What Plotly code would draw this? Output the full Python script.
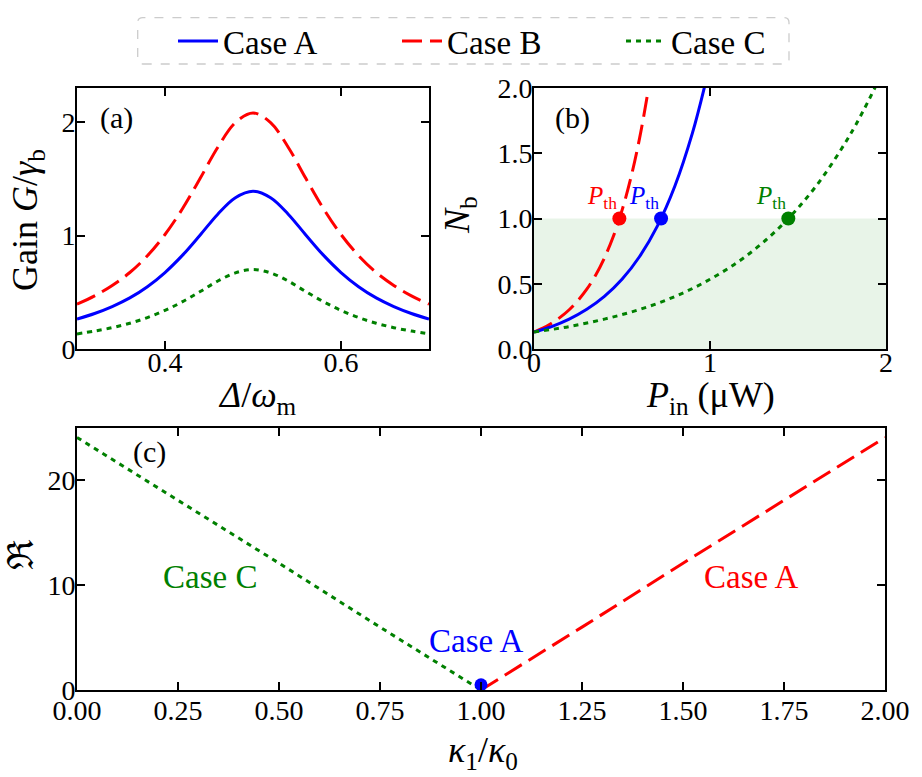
import plotly.graph_objects as go

FONT = "Liberation Serif, DejaVu Serif, serif"

# ---------------- data ----------------
# panel (a): gain vs detuning
detuning = [0.30, 0.32, 0.34, 0.36, 0.38, 0.40, 0.42, 0.44, 0.46, 0.48, 0.50,
            0.52, 0.54, 0.56, 0.58, 0.60, 0.62, 0.64, 0.66, 0.68, 0.70]
gain_A = [0.264, 0.313, 0.374, 0.450, 0.549, 0.674, 0.827, 1.005, 1.188, 1.333, 1.39,
          1.333, 1.188, 1.005, 0.827, 0.674, 0.549, 0.450, 0.374, 0.313, 0.264]
gain_B = [0.395, 0.468, 0.560, 0.674, 0.822, 1.009, 1.238, 1.504, 1.778, 1.995, 2.08,
          1.995, 1.778, 1.504, 1.238, 1.009, 0.822, 0.674, 0.560, 0.468, 0.395]
gain_C = [0.133, 0.158, 0.188, 0.227, 0.277, 0.340, 0.417, 0.506, 0.599, 0.671, 0.70,
          0.671, 0.599, 0.506, 0.417, 0.340, 0.277, 0.227, 0.188, 0.158, 0.133]

# panel (b): phonon number vs input power
P_A = [0.0, 0.1, 0.2, 0.3, 0.4, 0.5, 0.6, 0.7, 0.8, 0.9, 0.97]
N_A = [0.13, 0.172, 0.229, 0.304, 0.403, 0.534, 0.709, 0.940, 1.247, 1.654, 2.015]
P_B = [0.0, 0.05, 0.10, 0.15, 0.20, 0.25, 0.30, 0.35, 0.40, 0.45, 0.50, 0.55, 0.60, 0.65]
N_B = [0.13, 0.160, 0.198, 0.244, 0.301, 0.372, 0.458, 0.565, 0.698, 0.860, 1.062, 1.31, 1.616, 1.99]
P_C = [0.0, 0.2, 0.4, 0.6, 0.8, 1.0, 1.2, 1.4, 1.6, 1.8, 1.94]
N_C = [0.13, 0.172, 0.229, 0.303, 0.402, 0.534, 0.707, 0.938, 1.244, 1.651, 2.01]
P_th = [0.722, 0.485, 1.445]          # Case A, B, C
N_th = [1.0, 1.0, 1.0]
shade_N = [0.0, 1.0]

# panel (c): ratio vs kappa1/kappa0
kappa_C = [0.0, 0.25, 0.50, 0.75, 1.0]
R_C = [24.1, 18.1, 12.1, 6.0, 0.0]
kappa_A = [1.0, 1.25, 1.50, 1.75, 2.0]
R_A = [0.0, 6.0, 12.1, 18.1, 24.1]
kappa_point = [1.0]
R_point = [0.5]

BLUE, RED, GREEN = "#0000ff", "#ff0000", "#008000"
DASH_B = "20px,8px"
DOT_C = "5px,5px"
LW = 3

fig = go.Figure()

# (a)
fig.add_trace(go.Scatter(x=detuning, y=gain_A, mode="lines", name="Case A",
                         line=dict(color=BLUE, width=LW, shape="spline"),
                         xaxis="x", yaxis="y"))
fig.add_trace(go.Scatter(x=detuning, y=gain_B, mode="lines", name="Case B",
                         line=dict(color=RED, width=LW, dash=DASH_B, shape="spline"),
                         xaxis="x", yaxis="y"))
fig.add_trace(go.Scatter(x=detuning, y=gain_C, mode="lines", name="Case C",
                         line=dict(color=GREEN, width=LW, dash=DOT_C, shape="spline"),
                         xaxis="x", yaxis="y"))

# (b)
fig.add_trace(go.Scatter(x=P_B, y=N_B, mode="lines", showlegend=False,
                         line=dict(color=RED, width=LW, dash=DASH_B, shape="spline"),
                         xaxis="x2", yaxis="y2"))
fig.add_trace(go.Scatter(x=P_A, y=N_A, mode="lines", showlegend=False,
                         line=dict(color=BLUE, width=LW, shape="spline"),
                         xaxis="x2", yaxis="y2"))
fig.add_trace(go.Scatter(x=P_C, y=N_C, mode="lines", showlegend=False,
                         line=dict(color=GREEN, width=LW, dash=DOT_C, shape="spline"),
                         xaxis="x2", yaxis="y2"))
fig.add_trace(go.Scatter(x=P_th, y=N_th, mode="markers", showlegend=False,
                         marker=dict(color=[BLUE, RED, GREEN], size=14),
                         xaxis="x2", yaxis="y2"))

# (c)
fig.add_trace(go.Scatter(x=kappa_C, y=R_C, mode="lines", showlegend=False,
                         line=dict(color=GREEN, width=LW, dash=DOT_C),
                         xaxis="x3", yaxis="y3"))
fig.add_trace(go.Scatter(x=kappa_A, y=R_A, mode="lines", showlegend=False,
                         line=dict(color=RED, width=LW, dash=DASH_B),
                         xaxis="x3", yaxis="y3"))
fig.add_trace(go.Scatter(x=kappa_point, y=R_point, mode="markers", showlegend=False,
                         marker=dict(color=BLUE, size=13),
                         xaxis="x3", yaxis="y3"))

TICKFONT = dict(family=FONT, size=28, color="black")
TITLEFONT = dict(family=FONT, size=36, color="black")


def ax(**kw):
    d = dict(showline=True, linecolor="black", linewidth=2, mirror="ticks",
             ticks="inside", ticklen=8, tickwidth=2, tickcolor="black",
             showgrid=False, zeroline=False, tickfont=TICKFONT,
             ticklabelstandoff=0, automargin=False)
    d.update(kw)
    return d


W, H = 922, 777
ya_dom = [1 - 349 / H, 1 - 88 / H]
yc_dom = [1 - 690 / H, 1 - 428 / H]

fig.update_layout(
    width=W, height=H,
    margin=dict(l=0, r=0, t=0, b=0, autoexpand=False),
    paper_bgcolor="white", plot_bgcolor="white",
    font=dict(family=FONT, color="black"),
    xaxis=ax(domain=[77 / W, 429 / W], range=[0.3, 0.7], tickvals=[0.4, 0.6],
             ticktext=["0.4", "0.6"], anchor="y", ticklabelstandoff=-13),
    yaxis=ax(domain=ya_dom, range=[0, 2.3], tickvals=[0, 1, 2], anchor="x",
             ticklabelstandoff=-6),
    xaxis2=ax(domain=[534 / W, 886 / W], range=[0, 2], tickvals=[0, 1, 2], anchor="y2",
              ticklabelstandoff=-13),
    yaxis2=ax(domain=ya_dom, range=[0, 2], tickvals=[0, 0.5, 1.0, 1.5, 2.0],
              tickformat=".1f", anchor="x2", ticklabelstandoff=-6),
    xaxis3=ax(domain=[77 / W, 885 / W], range=[0, 2],
              tickvals=[0, 0.25, 0.5, 0.75, 1.0, 1.25, 1.5, 1.75, 2.0],
              tickformat=".2f", anchor="y3", ticklabelstandoff=-6),
    yaxis3=ax(domain=yc_dom, range=[0, 25], tickvals=[0, 10, 20], anchor="x3",
              ticklabelstandoff=-6),
    showlegend=True,
    legend=dict(orientation="h", x=173 / W, xanchor="left", y=1 - 41 / H, yanchor="middle",
                font=dict(family=FONT, size=33, color="black"),
                bgcolor="rgba(0,0,0,0)", borderwidth=0, itemwidth=40,
                entrywidth=169, entrywidthmode="pixels"),
)

# legend frame (rounded dashed box)
x0, x1 = 137.7 / W, 789 / W
y0, y1 = 1 - 64 / H, 1 - 17.7 / H
rx, ry = 5 / W, 5 / H
path = (f"M {x0+rx},{y0} L {x1-rx},{y0} Q {x1},{y0} {x1},{y0+ry} "
        f"L {x1},{y1-ry} Q {x1},{y1} {x1-rx},{y1} L {x0+rx},{y1} "
        f"Q {x0},{y1} {x0},{y1-ry} L {x0},{y0+ry} Q {x0},{y0} {x0+rx},{y0} Z")
fig.add_shape(type="path", path=path, xref="paper", yref="paper",
              line=dict(color="#cccccc", width=1.3, dash="dash"),
              fillcolor="rgba(0,0,0,0)")

# green shading N_b <= 1 in (b)
fig.add_shape(type="rect", xref="x2 domain", yref="y2", x0=0, x1=1,
              y0=shade_N[0], y1=shade_N[1], fillcolor="rgba(0,128,0,0.09)",
              line=dict(width=0), layer="below")


def pp(px_x, px_y):
    return px_x / W, 1 - px_y / H


ann = []
# axis titles
for text, (cx, cy), ang in [
    ("<i>Δ</i>/<i>ω</i><sub>m</sub>", (257, 397), 0),
    ("<i>P</i><sub>in</sub> (μW)", (710, 397), 0),
    ("Gain <i>G</i>/<i>γ</i><sub>b</sub>", (27, 220), -90),
    ("<i>N</i><sub>b</sub>", (460, 215), -90),
    ("ℜ", (21, 555), -90),
    ("<i>κ</i><sub>1</sub>/<i>κ</i><sub>0</sub>", (483, 752), 0),
]:
    X, Y = pp(cx, cy)
    ann.append(dict(text=text, xref="paper", yref="paper", x=X, y=Y,
                    xanchor="center", yanchor="middle", textangle=ang,
                    showarrow=False, font=TITLEFONT))

ann.append(dict(text="(a)", xref="x", yref="y", x=0.345, y=2.04, showarrow=False,
                font=dict(family=FONT, size=30, color="black")))
ann.append(dict(text="(b)", xref="x2", yref="y2", x=0.22, y=1.77, showarrow=False,
                font=dict(family=FONT, size=30, color="black")))
ann.append(dict(text="(c)", xref="x3", yref="y3", x=0.18, y=22.7, showarrow=False,
                font=dict(family=FONT, size=30, color="black")))
for px, col in zip(P_th, [BLUE, RED, GREEN]):
    ann.append(dict(text="<i>P</i><sub>th</sub>", xref="x2", yref="y2", x=px, y=1.03,
                    xanchor="right", yanchor="bottom", showarrow=False,
                    font=dict(family=FONT, size=25, color=col)))
ann.append(dict(text="Case C", xref="x3", yref="y3", x=0.33, y=10.8, showarrow=False,
                font=dict(family=FONT, size=33, color=GREEN)))
ann.append(dict(text="Case A", xref="x3", yref="y3", x=0.99, y=4.7, showarrow=False,
                font=dict(family=FONT, size=33, color=BLUE)))
ann.append(dict(text="Case A", xref="x3", yref="y3", x=1.67, y=10.8, showarrow=False,
                font=dict(family=FONT, size=33, color=RED)))
fig.update_layout(annotations=ann)

fig.write_html("out.html", config={"displayModeBar": False},
               post_script="document.body.style.margin='0px';document.body.style.padding='0px';")
